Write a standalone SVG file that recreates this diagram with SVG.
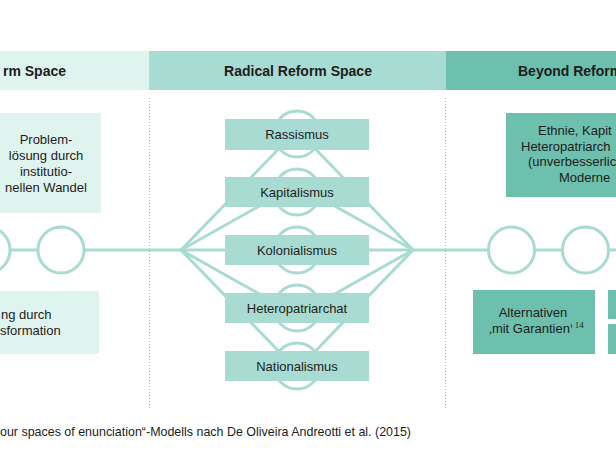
<svg xmlns="http://www.w3.org/2000/svg" width="616" height="467" viewBox="0 0 616 467">
<style>
text{font-family:"Liberation Sans",Arial,sans-serif;fill:#1d1d1b;font-size:13px}
.h{font-weight:bold;font-size:14px}
.c{text-anchor:middle}
.l1{fill:#dff3ef}.l2{fill:#a8dbd2}.l3{fill:#6cc0ad}
.ln{stroke:#a8dbd2;stroke-width:3;fill:none}
.ring{stroke:#a8dbd2;stroke-width:3;fill:#fff}
.ringb{stroke:#a8dbd2;stroke-width:3;fill:none}
.dot{stroke:#7fcabb;stroke-width:1;stroke-dasharray:1 2}
</style>
<rect width="616" height="467" fill="#fff"/>
<g id="headers">
<rect class="l1" x="0" y="51" width="149" height="39"/>
<rect class="l2" x="149" y="51" width="297" height="39"/>
<rect class="l3" x="446" y="51" width="170" height="39"/>
<text class="h" x="66" y="76" text-anchor="end">rm Space</text>
<text class="h c" x="298" y="76">Radical Reform Space</text>
<text class="h" x="518" y="76">Beyond Reform</text>
</g>
<g id="dividers">
<line class="dot" x1="149.5" y1="98" x2="149.5" y2="410"/>
<line class="dot" x1="445.5" y1="98" x2="445.5" y2="410"/>
</g>
<g id="connectors">
<line class="ln" x1="0" y1="250" x2="616" y2="250"/>
<line class="ln" x1="181" y1="250" x2="293" y2="134"/>
<line class="ln" x1="181" y1="250" x2="270" y2="200"/>
<line class="ln" x1="181" y1="250" x2="270" y2="300"/>
<line class="ln" x1="181" y1="250" x2="293" y2="366"/>
<line class="ln" x1="413" y1="250" x2="301" y2="134"/>
<line class="ln" x1="413" y1="250" x2="324" y2="200"/>
<line class="ln" x1="413" y1="250" x2="324" y2="300"/>
<line class="ln" x1="413" y1="250" x2="301" y2="366"/>
</g>
<g id="rings">
<circle class="ring" cx="-13" cy="250" r="23"/>
<circle class="ring" cx="61" cy="250" r="23"/>
<circle class="ring" cx="511.5" cy="250" r="23"/>
<circle class="ring" cx="585.5" cy="250" r="23"/>
<circle class="ringb" cx="297" cy="134" r="23"/>
<circle class="ringb" cx="297" cy="192" r="23"/>
<circle class="ringb" cx="297" cy="250" r="23"/>
<circle class="ringb" cx="297" cy="308" r="23"/>
<circle class="ringb" cx="297" cy="366" r="23"/>
</g>
<g id="problemloesung">
<rect class="l1" x="0" y="113" width="101" height="100"/>
<text class="c" x="46" y="144">Problem-</text>
<text class="c" x="46" y="160">lösung durch</text>
<text class="c" x="46" y="176">institutio-</text>
<text class="c" x="46" y="192">nellen Wandel</text>
</g>
<g id="transformation">
<rect class="l1" x="0" y="291" width="99" height="63"/>
<text x="1" y="319">ng durch</text>
<text x="0" y="335">sformation</text>
</g>
<g id="rassismus"><rect class="l2" x="225" y="119" width="144" height="31"/><text class="c" x="297" y="139">Rassismus</text></g>
<g id="kapitalismus"><rect class="l2" x="225" y="177" width="144" height="30"/><text class="c" x="297" y="197">Kapitalismus</text></g>
<g id="kolonialismus"><rect class="l2" x="225" y="235" width="144" height="30"/><text class="c" x="297" y="255">Kolonialismus</text></g>
<g id="heteropatriarchat"><rect class="l2" x="225" y="293" width="144" height="30"/><text class="c" x="297" y="313">Heteropatriarchat</text></g>
<g id="nationalismus"><rect class="l2" x="225" y="351" width="144" height="30"/><text class="c" x="297" y="371">Nationalismus</text></g>
<g id="ethnie">
<rect class="l3" x="506" y="113" width="110" height="84"/>
<text x="538" y="135">Ethnie, Kapit</text>
<text x="521" y="151">Heteropatriarch</text>
<text x="528" y="166">(unverbesserlic</text>
<text x="559" y="182">Moderne</text>
</g>
<g id="alternativen">
<rect class="l3" x="473" y="290" width="122" height="64"/>
<text class="c" x="533" y="317">Alternativen</text>
<text x="489" y="333">‚mit Garantien‘<tspan font-family="Liberation Serif" font-size="9" dx="2" dy="-5">14</tspan></text>
</g>
<g id="rechts-oben"><rect class="l3" x="608" y="290" width="8" height="29"/></g>
<g id="rechts-unten"><rect class="l3" x="608" y="324" width="8" height="30"/></g>
<text x="0" y="436" font-size="12" textLength="411" lengthAdjust="spacingAndGlyphs">our spaces of enunciation“-Modells nach De Oliveira Andreotti et al. (2015)</text>
</svg>
